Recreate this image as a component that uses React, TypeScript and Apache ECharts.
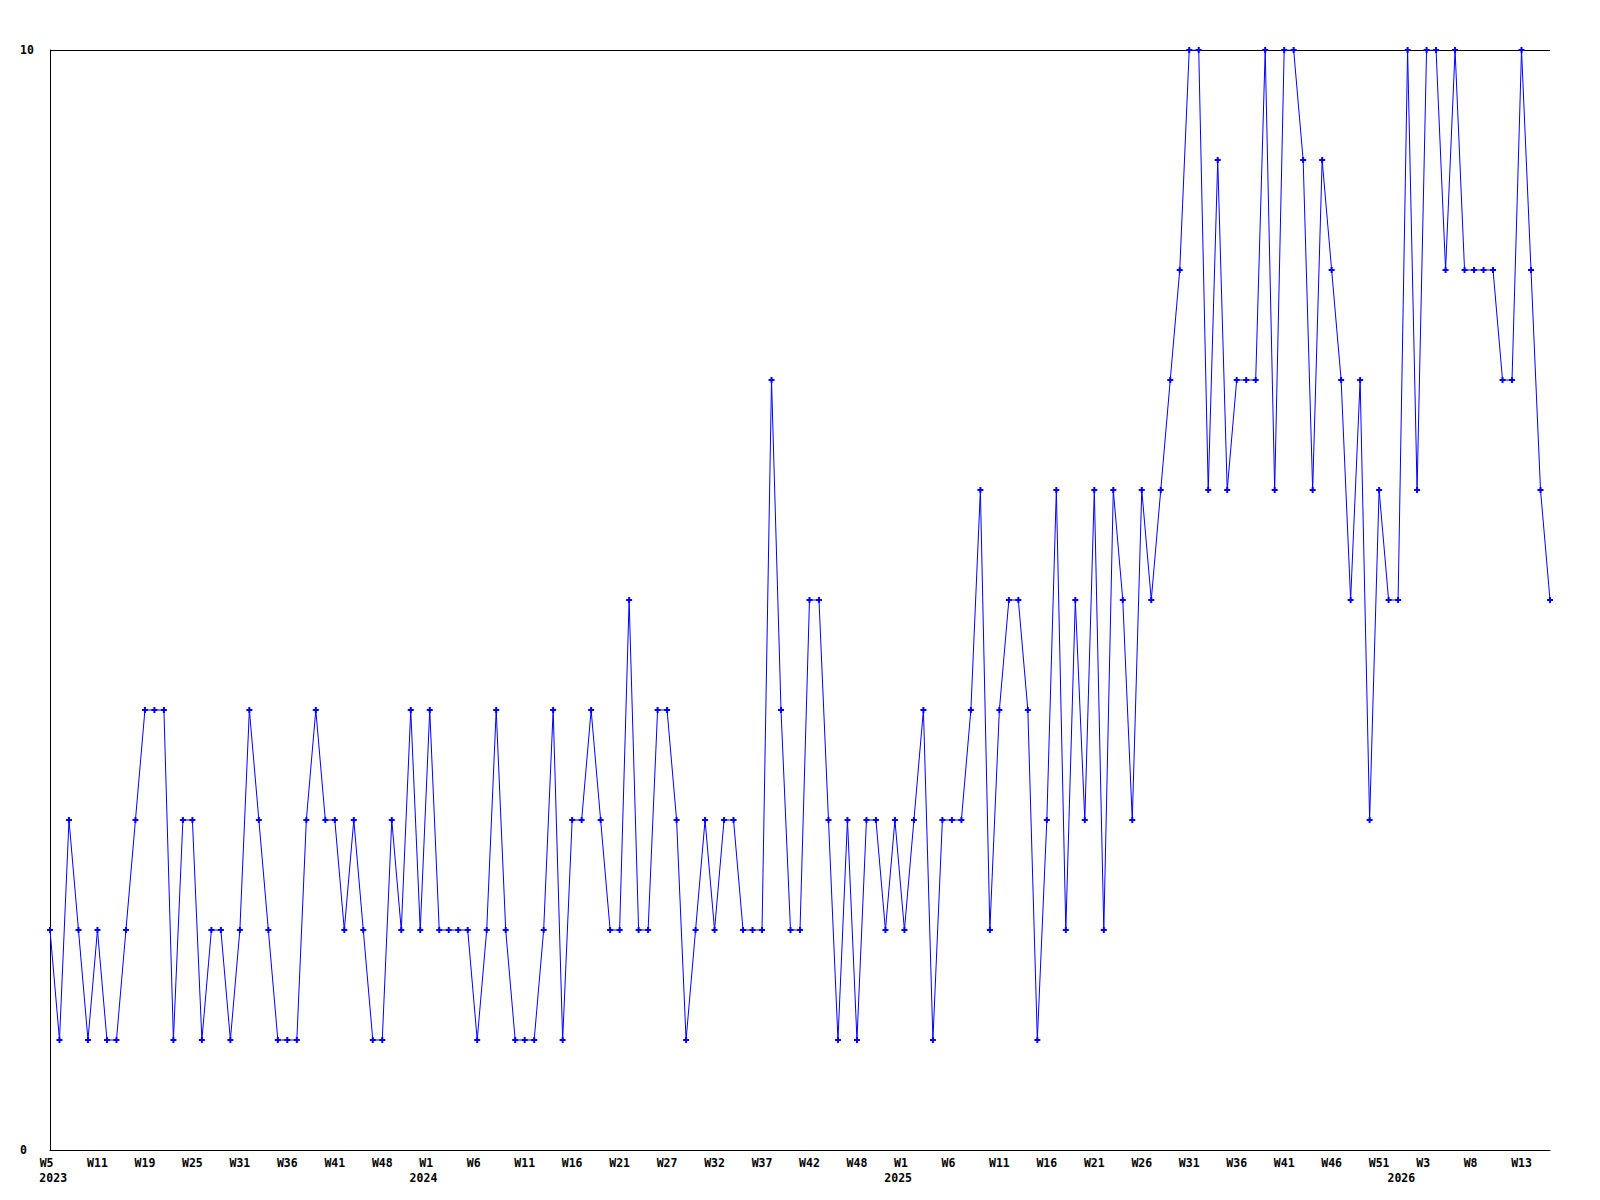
import React, { useEffect, useRef } from "react";
import * as echarts from "echarts";

// One value per plotted point (weekly observations, some weeks missing)
const values: number[] = [
  2, 1, 3, 2, 1, 2, 1, 1, 2, 3, 4, 4, 4, 1, 3, 3, 1, 2, 2, 1, 2, 4, 3, 2, 1, 1, 1, 3, 4, 3,
  3, 2, 3, 2, 1, 1, 3, 2, 4, 2, 4, 2, 2, 2, 2, 1, 2, 4, 2, 1, 1, 1, 2, 4, 1, 3, 3, 4, 3, 2,
  2, 5, 2, 2, 4, 4, 3, 1, 2, 3, 2, 3, 3, 2, 2, 2, 7, 4, 2, 2, 5, 5, 3, 1, 3, 1, 3, 3, 2,
  3, 2, 3, 4, 1, 3, 3, 3, 4, 6, 2, 4, 5, 5, 4, 1, 3, 6, 2, 5, 3, 6, 2, 6, 5, 3, 6, 5, 6,
  7, 8, 10, 10, 6, 9, 6, 7, 7, 7, 10, 6, 10, 10, 9, 6, 9, 8, 7, 5, 7,
  3, 6, 5, 5, 10, 6, 10, 10, 8, 10, 8, 8, 8, 8, 7, 7, 10, 8, 6, 5,
];

// Week tick labels, one on every 5th point
const weekTickStep = 5;
const weekTickLabels: string[] = [
  "W5", "W11", "W19", "W25", "W31", "W36", "W41", "W48",
  "W1", "W6", "W11", "W16", "W21", "W27", "W32", "W37", "W42", "W48",
  "W1", "W6", "W11", "W16", "W21", "W26", "W31", "W36", "W41", "W46", "W51",
  "W3", "W8", "W13",
];

// Year labels and the point index where each year begins
const yearTickIndex: number[] = [0, 39, 89, 142];
const yearTickLabels: string[] = ["2023", "2024", "2025", "2026"];

// Y axis range
const yMin = 0;
const yMax = 10;

const FONT = "'DejaVu Sans Mono', 'Liberation Mono', monospace";
const CH = 6.9; // approx glyph advance at 11.5px

const baseText = {
  fontFamily: FONT,
  fontSize: 11.5,
  fontWeight: "bold" as const,
  color: "#000",
};

export default function App() {
  const ref = useRef<HTMLDivElement>(null);

  useEffect(() => {
    if (!ref.current) return;
    const chart = echarts.init(ref.current, null, { renderer: "svg" });
    const categories = values.map((_, i) => String(i));

    chart.setOption({
      animation: false,
      backgroundColor: "#ffffff",
      grid: { left: 50, right: 50, top: 50, bottom: 50, containLabel: false },
      xAxis: [
        {
          type: "category",
          data: categories,
          boundaryGap: false,
          position: "bottom",
          axisLine: { show: true, lineStyle: { color: "#000", width: 1 } },
          axisTick: { show: false },
          splitLine: { show: false },
          axisLabel: {
            ...baseText,
            margin: 7,
            interval: (i: number) => i % weekTickStep === 0,
            formatter: (_v: string, i: number) => {
              const l = weekTickLabels[Math.round(i / weekTickStep)] ?? "";
              return l.length <= 2 ? `{s|${l}}` : `{n|${l}}`;
            },
            rich: {
              s: { ...baseText, padding: [0, CH, 0, 0] },
              n: { ...baseText },
            },
          },
        },
        {
          type: "category",
          data: categories,
          boundaryGap: false,
          position: "bottom",
          axisLine: { show: false },
          axisTick: { show: false },
          splitLine: { show: false },
          axisLabel: {
            ...baseText,
            margin: 22,
            interval: (i: number) => yearTickIndex.includes(i),
            formatter: (_v: string, i: number) => {
              const k = yearTickIndex.indexOf(i);
              return k >= 0 ? `{y|${yearTickLabels[k]}}` : "";
            },
            rich: {
              y: { ...baseText, padding: [0, 0, 0, 6.4] },
            },
          },
        },
      ],
      yAxis: {
        type: "value",
        min: yMin,
        max: yMax,
        interval: yMax - yMin,
        axisLine: { show: true, lineStyle: { color: "#000", width: 1 } },
        axisTick: { show: false },
        splitLine: { show: true, lineStyle: { color: "#000", width: 1 } },
        axisLabel: { ...baseText, align: "left", margin: 30 },
      },
      series: [
        {
          type: "line",
          data: values,
          xAxisIndex: 0,
          yAxisIndex: 0,
          showAllSymbol: true,
          symbol: "path://M2 0h2v2h2v2h-2v2h-2v-2h-2v-2h2z",
          symbolSize: 6,
          lineStyle: { color: "#0000ff", width: 1 },
          itemStyle: { color: "#0000ff" },
          emphasis: { disabled: true },
        },
      ],
    });

    return () => chart.dispose();
  }, []);

  return (
    <div
      ref={ref}
      style={{
        position: "fixed",
        left: 0,
        top: 0,
        width: 1600,
        height: 1200,
        background: "#fff",
      }}
    />
  );
}
